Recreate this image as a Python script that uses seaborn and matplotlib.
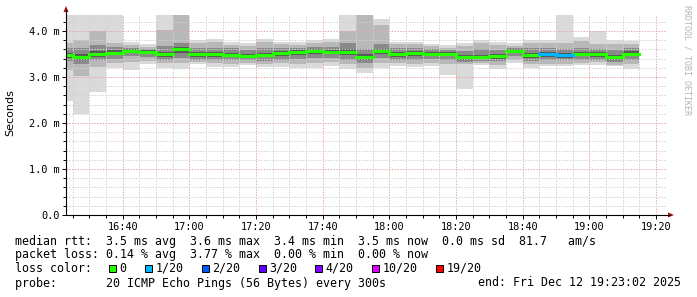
import numpy as np
import pandas as pd
import matplotlib
matplotlib.use("Agg")
import matplotlib.pyplot as plt
import matplotlib.dates as mdates
from matplotlib.patches import Rectangle, Polygon
from matplotlib.lines import Line2D
from matplotlib.ticker import MultipleLocator, FuncFormatter
import seaborn as sns

# ---------------- data (ms) ----------------
start_time = "2025-12-12 16:20"
step_minutes = 5
rtt_max = [4.40, 4.40, 4.40, 4.40, 3.77, 3.71, 4.40, 4.40, 3.80, 3.83, 3.76, 3.73,
           3.83, 3.77, 3.75, 3.80, 3.83, 4.40, 4.40, 4.26, 3.77, 3.77, 3.72, 3.70,
           3.74, 3.80, 3.76, 3.73, 3.80, 3.80, 4.40, 3.87, 3.99, 3.80, 3.78]
rtt_p90 = [3.75, 3.80, 4.00, 3.75, 3.70, 3.66, 4.02, 4.40, 3.74, 3.76, 3.70, 3.68,
           3.76, 3.71, 3.70, 3.73, 3.76, 4.00, 4.40, 4.13, 3.72, 3.72, 3.67, 3.64,
           3.68, 3.74, 3.70, 3.68, 3.74, 3.74, 3.74, 3.78, 3.72, 3.72, 3.72]
rtt_p75 = [3.62, 3.62, 3.70, 3.65, 3.64, 3.61, 3.68, 3.75, 3.63, 3.64, 3.62, 3.58,
           3.64, 3.64, 3.64, 3.66, 3.66, 3.75, 3.60, 3.72, 3.62, 3.63, 3.60, 3.58,
           3.56, 3.60, 3.58, 3.64, 3.62, 3.62, 3.60, 3.63, 3.60, 3.58, 3.62]
rtt_p60 = [3.53, 3.50, 3.56, 3.58, 3.60, 3.58, 3.55, 3.66, 3.54, 3.54, 3.53, 3.50,
           3.53, 3.57, 3.58, 3.61, 3.59, 3.60, 3.50, 3.61, 3.54, 3.57, 3.55, 3.54,
           3.48, 3.48, 3.50, 3.61, 3.52, 3.54, 3.52, 3.55, 3.54, 3.48, 3.56]
rtt_median = [3.48, 3.44, 3.50, 3.53, 3.57, 3.54, 3.49, 3.61, 3.49, 3.49, 3.48, 3.45,
              3.48, 3.52, 3.54, 3.57, 3.54, 3.54, 3.44, 3.56, 3.49, 3.52, 3.51, 3.50,
              3.43, 3.43, 3.45, 3.57, 3.47, 3.49, 3.47, 3.50, 3.49, 3.43, 3.51]
rtt_p40 = [3.42, 3.38, 3.44, 3.47, 3.52, 3.49, 3.44, 3.53, 3.44, 3.43, 3.43, 3.41,
           3.43, 3.46, 3.48, 3.50, 3.49, 3.47, 3.38, 3.50, 3.44, 3.46, 3.46, 3.45,
           3.38, 3.39, 3.40, 3.52, 3.42, 3.44, 3.42, 3.45, 3.44, 3.38, 3.45]
rtt_p25 = [3.35, 3.28, 3.36, 3.40, 3.45, 3.43, 3.38, 3.42, 3.38, 3.36, 3.36, 3.36,
           3.35, 3.38, 3.40, 3.42, 3.42, 3.38, 3.30, 3.42, 3.37, 3.38, 3.39, 3.38,
           3.33, 3.35, 3.34, 3.45, 3.35, 3.37, 3.36, 3.38, 3.38, 3.32, 3.37]
rtt_p10 = [3.15, 3.02, 3.22, 3.30, 3.33, 3.35, 3.30, 3.30, 3.33, 3.30, 3.29, 3.31,
           3.29, 3.30, 3.28, 3.30, 3.32, 3.28, 3.20, 3.30, 3.30, 3.29, 3.31, 3.28,
           3.28, 3.31, 3.27, 3.37, 3.28, 3.29, 3.29, 3.31, 3.32, 3.27, 3.28]
rtt_min = [2.47, 2.19, 2.67, 3.19, 3.15, 3.28, 3.19, 3.17, 3.28, 3.22, 3.21, 3.26,
           3.22, 3.22, 3.19, 3.19, 3.25, 3.17, 3.09, 3.20, 3.25, 3.21, 3.25, 3.05,
           2.75, 3.27, 3.18, 3.30, 3.20, 3.23, 3.23, 3.27, 3.27, 3.23, 3.18]
lost_pings = [0, 0, 0, 0, 0, 0, 0, 0, 0, 0, 0, 0, 0, 0, 0, 0, 0, 0, 0, 0, 0, 0,
              0, 0, 0, 0, 0, 0, 0, 1, 1, 0, 0, 0, 0]

loss_labels = ["0", "1/20", "2/20", "3/20", "4/20", "10/20", "19/20"]
loss_counts = [0, 1, 2, 3, 4, 10, 19]
loss_colors = ["#26ff00", "#00b8ff", "#0059ff", "#5e00ff", "#7e00ff", "#dd00ff", "#ff0000"]

legend_rows = [
    "median rtt:  3.5 ms avg  3.6 ms max  3.4 ms min  3.5 ms now  0.0 ms sd  81.7   am/s",
    "packet loss: 0.14 % avg  3.77 % max  0.00 % min  0.00 % now",
    "loss color:",
    "probe:       20 ICMP Echo Pings (56 Bytes) every 300s",
]
end_text = "end: Fri Dec 12 19:23:02 2025"
x_start, x_end = "2025-12-12 16:23", "2025-12-12 19:23"

# ---------------- figure ----------------
sns.set_theme(style="white")
plt.rcParams["font.family"] = ["DejaVu Sans Mono", "DejaVu Sans"]

W, H = 697, 297
fig = plt.figure(figsize=(W / 100, H / 100), dpi=100)
fig.patch.set_facecolor("white")

def fx(x):
    return x / W

def fy(y):
    return 1 - y / H

ax_left, ax_right, ax_top, ax_bottom = 66, 666, 15, 215
ax = fig.add_axes([fx(ax_left), fy(ax_bottom), (ax_right - ax_left) / W, (ax_bottom - ax_top) / H])
ax.set_facecolor("white")

times = pd.date_range(start_time, periods=len(rtt_median), freq=f"{step_minutes}min")
xs = mdates.date2num(times.to_pydatetime())
width = step_minutes / 1440.0

bands = [
    (rtt_min, rtt_max, "#dadada"),
    (rtt_p10, rtt_p90, "#b8b8b8"),
    (rtt_p25, rtt_p75, "#8a8a8a"),
    (rtt_p40, rtt_p60, "#555555"),
]
for lo, hi, col in bands:
    lo = np.array(lo)
    hi = np.array(hi)
    ax.bar(xs, hi - lo, bottom=lo, width=width, align="edge", color=col,
           linewidth=0, zorder=1)

# median line, coloured by loss
cmap = dict(zip(loss_counts, loss_colors))
rows = []
for i, (x0, m, l) in enumerate(zip(xs, rtt_median, lost_pings)):
    rows.append({"x": x0, "y": m, "bar": i, "loss": l})
    rows.append({"x": x0 + width, "y": m, "bar": i, "loss": l})
df = pd.DataFrame(rows)
sns.lineplot(data=df, x="x", y="y", units="bar", estimator=None, hue="loss",
             palette={k: cmap[k] for k in df["loss"].unique()}, lw=2.3,
             legend=False, ax=ax, zorder=5, solid_capstyle="projecting")

ax.set_xlim(mdates.date2num(pd.Timestamp(x_start)), mdates.date2num(pd.Timestamp(x_end)))
ax.set_ylim(0, (ax_bottom - ax_top) / 46.0)

ax.xaxis.set_major_locator(mdates.MinuteLocator(byminute=[0, 20, 40]))
ax.xaxis.set_minor_locator(mdates.MinuteLocator(byminute=range(0, 60, 5)))
ax.xaxis.set_major_formatter(mdates.DateFormatter("%H:%M"))
ax.yaxis.set_major_locator(MultipleLocator(1.0))
ax.yaxis.set_minor_locator(MultipleLocator(0.2))
ax.yaxis.set_major_formatter(FuncFormatter(lambda v, p: "0.0" if abs(v) < 1e-9 else f"{v:.1f} m"))

ax.set_axisbelow(False)
ax.grid(which="minor", color="#d2d2d2", linestyle=(0, (1.39, 1.39)), lw=0.72, zorder=2)
ax.grid(which="major", color="#e8a8a8", linestyle=(0, (1.39, 1.39)), lw=0.72, zorder=2)
for s in ax.spines.values():
    s.set_visible(False)

ax.tick_params(axis="both", which="both", direction="out", color="black", width=0.7,
               labelsize=7.4, labelcolor="#000000", bottom=True, left=True)
ax.tick_params(axis="both", which="major", length=3, pad=2)
ax.tick_params(axis="both", which="minor", length=2)
ax.tick_params(axis="y", which="major", pad=1.5)
ax.set_xlabel("")
ax.set_ylabel("")

# axis lines and arrows
fig.add_artist(Line2D([fx(66), fx(670)], [fy(215), fy(215)], color="black", lw=0.8))
fig.add_artist(Line2D([fx(66), fx(66)], [fy(215), fy(10)], color="black", lw=0.8))
fig.add_artist(Polygon([(fx(63.5), fy(12)), (fx(68.5), fy(12)), (fx(66), fy(6))],
                       closed=True, color="#a01010", lw=0))
fig.add_artist(Polygon([(fx(668), fy(212.5)), (fx(668), fy(217.5)), (fx(674), fy(215))],
                       closed=True, color="#a01010", lw=0))

fig.text(fx(10), fy(113), "Seconds", rotation=90, ha="center", va="center",
         fontsize=8, family="DejaVu Sans", color="black")
fig.text(fx(687), fy(5), "RRDTOOL / TOBI OETIKER", rotation=270, ha="center", va="top",
         fontsize=6, color="#b4b4b4")

# legend text
row_y = [241, 254.5, 268, 283]
for txt, yy in zip(legend_rows, row_y):
    fig.text(fx(15), fy(yy), txt, ha="left", va="center", fontsize=8.4, color="black")
fig.text(fx(478), fy(row_y[3]), end_text, ha="left", va="center", fontsize=8.4, color="black")

charw = 7.02
cursor = 109
for lab, col in zip(loss_labels, loss_colors):
    fig.add_artist(Rectangle((fx(cursor), fy(271.5)), 7 / W, 7 / H, facecolor=col,
                             edgecolor="black", lw=0.7))
    fig.text(fx(cursor + 10.5), fy(row_y[2]), lab, ha="left", va="center",
             fontsize=8.4, color="black")
    cursor += (len(lab) + 4.1) * charw

fig.savefig("out.png", dpi=100, facecolor="white")
